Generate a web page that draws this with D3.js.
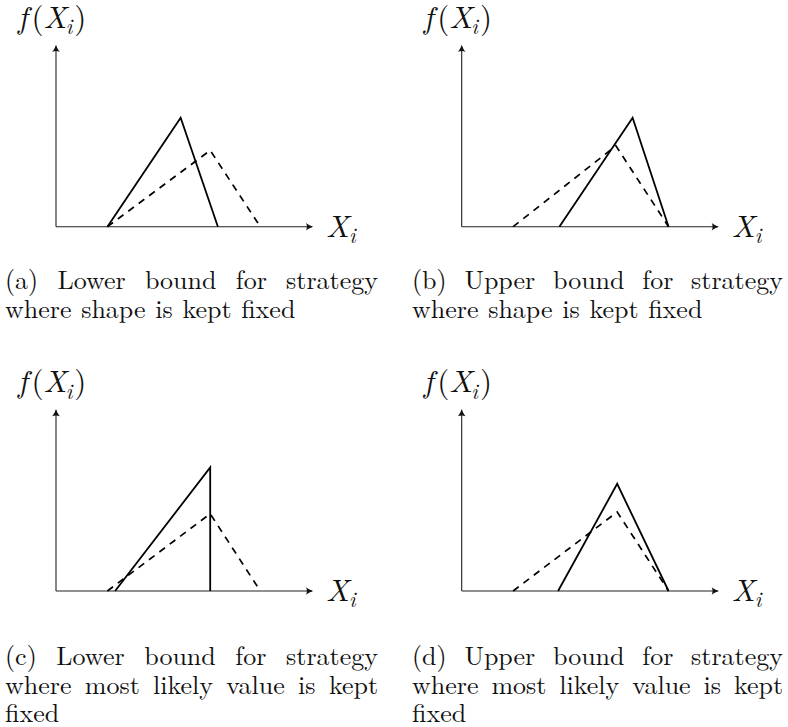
<!DOCTYPE html>
<html>
<head>
<meta charset="utf-8">
<script src="https://cdn.jsdelivr.net/npm/d3@7/dist/d3.min.js"></script>
<style>
  html, body { margin: 0; padding: 0; background: #fff; }
  svg { display: block; }
</style>
</head>
<body>
<svg id="fig" width="788" height="727"></svg>
<script>
// Triangular densities: [x, f(x)] corners in axis units (axes run 0..10)
const solidA  = [[2.0, 0], [4.85, 6.0], [6.3, 0]];
const dashedA = [[2.0, 0], [6.0, 4.2], [7.95, 0]];
const solidB  = [[3.8, 0], [6.65, 6.0], [8.05, 0]];
const dashedB = [[2.0, 0], [6.0, 4.45], [8.05, 0]];
const solidC  = [[2.3, 0], [6.0, 6.8], [6.0, 0]];
const dashedC = [[2.0, 0], [6.0, 4.25], [7.95, 0]];
const solidD  = [[3.75, 0], [6.05, 5.9], [8.05, 0]];
const dashedD = [[2.0, 0], [6.05, 4.35], [8.05, 0]];

const captionA = ["(a) Lower bound for strategy", "where shape is kept fixed"];
const captionB = ["(b) Upper bound for strategy", "where shape is kept fixed"];
const captionC = ["(c) Lower bound for strategy", "where most likely value is kept", "fixed"];
const captionD = ["(d) Upper bound for strategy", "where most likely value is kept", "fixed"];

const axisDomain = [0, 10];

// pick the first serif face that is actually installed
function hasFont(name) {
  const ctx = document.createElement("canvas").getContext("2d");
  const s = "mmmmmmmmmmlli WwQq fixed 0123";
  return ["monospace", "sans-serif"].some(base => {
    ctx.font = "40px " + base;
    const w0 = ctx.measureText(s).width;
    ctx.font = "40px '" + name + "', " + base;
    return ctx.measureText(s).width !== w0;
  });
}
const serifCandidates = ["Latin Modern Roman", "CMU Serif", "Liberation Serif", "Times New Roman",
  "Tinos", "Nimbus Roman", "FreeSerif", "Noto Serif", "DejaVu Serif", "Bitstream Charter"];
const found = serifCandidates.find(hasFont);
const SERIF = (found ? "'" + found + "', " : "") + "serif";

const svg = d3.select("#fig");

// arrow tip used on both axes
svg.append("defs").append("marker")
  .attr("id", "tip")
  .attr("markerUnits", "userSpaceOnUse")
  .attr("viewBox", "-8 -5 10 10")
  .attr("markerWidth", 10).attr("markerHeight", 10)
  .attr("refX", 0).attr("refY", 0)
  .attr("orient", "auto")
  .append("path")
  .attr("d", "M1.2,0 C-1.5,-0.8 -3.5,-2 -6,-3.8 C-4.8,-1.6 -4.8,1.6 -6,3.8 C-3.5,2 -1.5,0.8 1.2,0 Z")
  .attr("fill", "#111");

const panels = [
  { solid: solidA, dashed: dashedA, caption: captionA, ox: 56,    oy: 226.7, cx0: 5,   cx1: 378, cy: 289 },
  { solid: solidB, dashed: dashedB, caption: captionB, ox: 461.7, oy: 226.7, cx0: 412, cx1: 783, cy: 289 },
  { solid: solidC, dashed: dashedC, caption: captionC, ox: 56,    oy: 591,   cx0: 5,   cx1: 378, cy: 665 },
  { solid: solidD, dashed: dashedD, caption: captionD, ox: 461.7, oy: 591,   cx0: 412, cx1: 783, cy: 665 }
];

const axisW = 257, axisH = 181.7;
const capSize = 26, capLead = 28.5;

function mathLabel(g, x, y, pieces, size) {
  const t = g.append("text").attr("x", x).attr("y", y)
    .attr("font-family", SERIF).attr("fill", "#111")
    .style("font-family", SERIF)
    .style("font-size", size + "px");
  pieces.forEach(p => {
    const s = t.append("tspan").text(p.t);
    if (p.it) s.style("font-style", "italic");
    if (p.sub) s.attr("dy", size * 0.2).style("font-size", (size * 0.7) + "px");
    if (p.up) s.attr("dy", -size * 0.2);
    if (p.dx) s.attr("dx", p.dx);
  });
  return t;
}

function capText(g, y, str) {
  return g.append("text").attr("y", y)
    .attr("font-family", SERIF).attr("fill", "#111")
    .style("font-family", SERIF)
    .style("font-size", capSize + "px")
    .text(str);
}

function captionLines(g, lines, x0, x1, y0) {
  lines.forEach((line, li) => {
    const y = y0 + li * capLead;
    const words = line.split(" ");
    const last = li === lines.length - 1;
    if (last) {
      capText(g, y, line).attr("x", x0).style("word-spacing", "1px");
      return;
    }
    // justified line: spread words across the full column width
    const nodes = words.map(w => capText(g, y, w));
    const widths = nodes.map(n => n.node().getComputedTextLength());
    const gap = (x1 - x0 - d3.sum(widths)) / (words.length - 1);
    let cx = x0;
    nodes.forEach((n, i) => { n.attr("x", cx); cx += widths[i] + gap; });
  });
}

panels.forEach(p => {
  const x = d3.scaleLinear().domain(axisDomain).range([p.ox, p.ox + axisW]);
  const y = d3.scaleLinear().domain(axisDomain).range([p.oy, p.oy - axisH]);
  const g = svg.append("g");

  // axes with arrow tips
  g.append("line")
    .attr("x1", x(0)).attr("y1", y(0)).attr("x2", x(10) - 1).attr("y2", y(0))
    .attr("stroke", "#222").attr("stroke-width", 1.1)
    .attr("marker-end", "url(#tip)");
  g.append("line")
    .attr("x1", x(0)).attr("y1", y(0)).attr("x2", x(0)).attr("y2", y(10) + 1)
    .attr("stroke", "#222").attr("stroke-width", 1.1)
    .attr("marker-end", "url(#tip)");

  const line = d3.line().x(d => x(d[0])).y(d => y(d[1]));

  g.append("path").datum(p.dashed).attr("d", line)
    .attr("fill", "none").attr("stroke", "#000").attr("stroke-width", 1.7)
    .attr("stroke-dasharray", "7,6");
  g.append("path").datum(p.solid).attr("d", line)
    .attr("fill", "none").attr("stroke", "#000").attr("stroke-width", 1.8)
    .attr("stroke-linejoin", "miter");

  // axis labels
  mathLabel(g, x(0) - 38, y(10) - 17, [
    { t: "f", it: true }, { t: "(", dx: 4 }, { t: "X", it: true }, { t: "i", it: true, sub: true, dx: -1 }, { t: ")", up: true, dx: 2 }
  ], 31);
  mathLabel(g, x(10) + 13, y(0) + 10, [
    { t: "X", it: true }, { t: "i", it: true, sub: true, dx: 0 }
  ], 31);

  captionLines(g, p.caption, p.cx0, p.cx1, p.cy);
});
</script>
</body>
</html>
